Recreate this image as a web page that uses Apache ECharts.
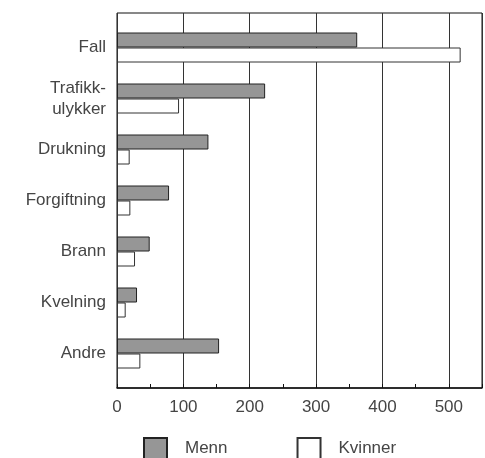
<!DOCTYPE html>
<html><head><meta charset="utf-8">
<script src="https://cdn.jsdelivr.net/npm/echarts@6/dist/echarts.min.js"></script>
<style>html,body{margin:0;padding:0;background:#fff;}#c{width:485px;height:458px;}</style>
</head><body><div id="c"></div>
<script>
var categories = ['Fall', 'Trafikk-\nulykker', 'Drukning', 'Forgiftning', 'Brann', 'Kvelning', 'Andre'];
var menn = [360, 222, 137, 78, 49, 30, 153];
var kvinner = [515, 93, 19, 20, 27, 13, 35];
var xTicks = [0, 100, 200, 300, 400, 500];

var chart = echarts.init(document.getElementById('c'));
var font = 'Liberation Sans, Arial, sans-serif';
var txt = '#454545';
chart.setOption({
  animation: false,
  backgroundColor: '#fff',
  grid: [
    {left: 117, right: 1, top: 13, bottom: 70, show: true, borderColor: '#111', borderWidth: 1},
    {left: 117, right: 1, top: 22, bottom: 79}
  ],
  xAxis: [
    {gridIndex: 0, type: 'value', min: 0, max: 550, interval: 100,
     axisLine: {show: true, lineStyle: {color: '#111', width: 1.5}},
     axisTick: {show: true, inside: true, length: 4, lineStyle: {color: '#111'}},
     minorTick: {show: true, splitNumber: 2, length: 4, lineStyle: {color: '#111'}},
     splitLine: {show: true, lineStyle: {color: '#333', width: 1}},
     axisLabel: {margin: 11, color: txt, fontSize: 17, fontFamily: font,
       formatter: function (v) { return xTicks.indexOf(v) >= 0 ? String(v) : ''; }}
    },
    {gridIndex: 1, type: 'value', min: 0, max: 550, show: false}
  ],
  yAxis: [
    {gridIndex: 0, type: 'value', show: false},
    {gridIndex: 1, type: 'category', data: categories, inverse: true,
     axisLine: {show: false}, axisTick: {show: false},
     axisLabel: {margin: 11, color: txt, fontSize: 17, fontFamily: font, lineHeight: 21}}
  ],
  legend: {
    top: 437, left: 143, padding: 0, itemWidth: 23, itemHeight: 21, itemGap: 69, icon: 'rect',
    textStyle: {color: txt, fontSize: 17, fontFamily: font, padding: [0, 0, 0, 13]},
    data: ['Menn', 'Kvinner']
  },
  series: [
    {name: 'Menn', type: 'bar', xAxisIndex: 1, yAxisIndex: 1, data: menn,
     barWidth: 15, barGap: '0%',
     itemStyle: {color: '#969696', borderColor: '#222', borderWidth: 1}},
    {name: 'Kvinner', type: 'bar', xAxisIndex: 1, yAxisIndex: 1, data: kvinner,
     barWidth: 15, barGap: '0%',
     itemStyle: {color: '#fff', borderColor: '#333', borderWidth: 1}}
  ]
});
</script></body></html>
